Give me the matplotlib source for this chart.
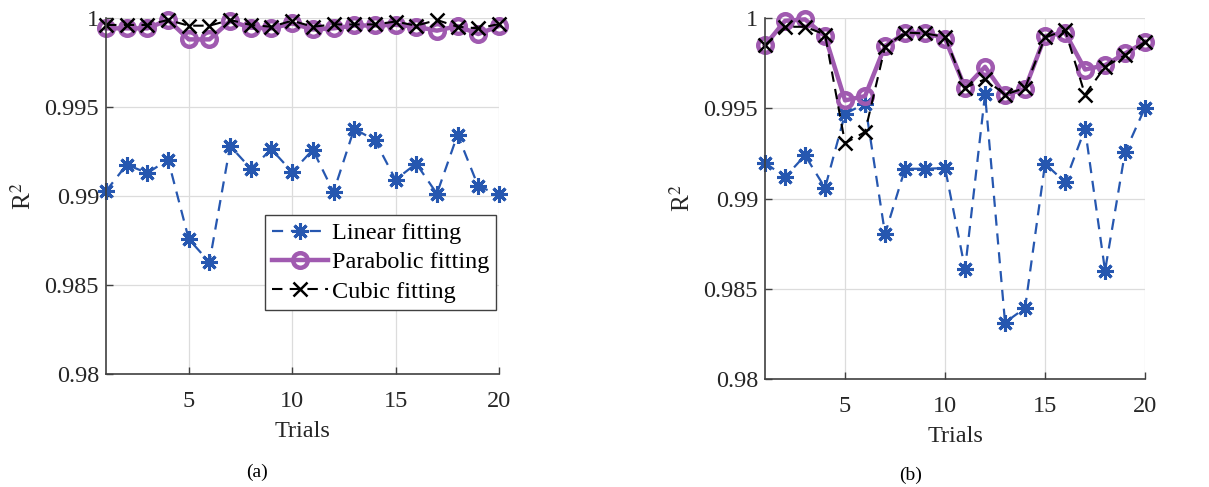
import matplotlib
matplotlib.use("Agg")
import matplotlib.pyplot as plt
import numpy as np

plt.rcParams['font.family'] = ['Liberation Serif', 'DejaVu Serif']
plt.rcParams['mathtext.fontset'] = 'stix'

# Data
trials = np.arange(1, 21)

# (a)
lin_a = [0.99028, 0.99176, 0.99129, 0.99204, 0.98758, 0.98628, 0.99281, 0.99154, 0.99262, 0.99135,
         0.99260, 0.99022, 0.99378, 0.99313, 0.99092, 0.99182, 0.99013, 0.99345, 0.99054, 0.99009]
par_a = [0.99942, 0.99942, 0.99942, 0.99989, 0.99880, 0.99880, 0.99983, 0.99946, 0.99942, 0.99970,
         0.99936, 0.99942, 0.99958, 0.99958, 0.99962, 0.99951, 0.99929, 0.99955, 0.99910, 0.99955]
cub_a = [0.99961, 0.99961, 0.99961, 0.99989, 0.99957, 0.99957, 0.99989, 0.99961, 0.99951, 0.99985,
         0.99951, 0.99964, 0.99964, 0.99964, 0.99980, 0.99957, 0.99989, 0.99951, 0.99942, 0.99966]

# (b)
lin_b = [0.99198, 0.99119, 0.99239, 0.99059, 0.99470, 0.99526, 0.98804, 0.99165, 0.99165, 0.99169,
         0.98609, 0.99578, 0.98313, 0.98393, 0.99193, 0.99091, 0.99387, 0.98600, 0.99257, 0.99504]
par_b = [0.99850, 0.99985, 0.99993, 0.99900, 0.99544, 0.99568, 0.99846, 0.99915, 0.99919, 0.99887,
         0.99613, 0.99730, 0.99572, 0.99609, 0.99900, 0.99920, 0.99715, 0.99739, 0.99804, 0.99868]
cub_b = [0.99850, 0.99952, 0.99952, 0.99909, 0.99307, 0.99369, 0.99841, 0.99920, 0.99915, 0.99896,
         0.99615, 0.99661, 0.99576, 0.99613, 0.99893, 0.99933, 0.99576, 0.99730, 0.99794, 0.99868]

yticks = [0.98, 0.985, 0.99, 0.995, 1.0]
yticklabels = ['0.98', '0.985', '0.99', '0.995', '1']
xticks = [5, 10, 15, 20]

c_lin = '#2657b0'
c_par = '#a05ab0'
c_cub = 'black'
dash = (0, (5, 3.5))
asterisk = (8, 2, 0)

fig = plt.figure(figsize=(12.09, 4.87), dpi=100)
ax1 = fig.add_axes([0.0877, 0.232, 0.325, 0.731])
ax2 = fig.add_axes([0.6328, 0.2218, 0.3143, 0.741])


def draw(ax, lin, par, cub):
    ax.plot(trials, lin, color=c_lin, ls=dash, lw=1.6, marker=asterisk, ms=12, mew=2.2,
            clip_on=False, label='Linear fitting')
    ax.plot(trials, par, color=c_par, ls='-', lw=3.2, marker='o', ms=10.5, mew=3.2,
            mfc='none', clip_on=False, label='Parabolic fitting')
    ax.plot(trials, cub, color=c_cub, ls=dash, lw=1.5, marker='x', ms=9.5, mew=1.8,
            clip_on=False, label='Cubic fitting')
    ax.set_xlim(1, 20)
    ax.set_ylim(0.98, 1.0)
    ax.set_xticks(xticks)
    ax.set_yticks(yticks)
    ax.set_yticklabels(yticklabels)
    ax.grid(True, color='#dcdcdc', lw=0.9)
    ax.set_axisbelow(True)
    for s in ['top', 'right']:
        ax.spines[s].set_visible(False)
    for s in ['left', 'bottom']:
        ax.spines[s].set_color('#404040')
        ax.spines[s].set_linewidth(1.2)
    ax.tick_params(direction='in', length=5, width=1, colors='#404040',
                   labelcolor='#262626', labelsize=17.5)
    ax.tick_params(axis='x', pad=12)
    ax.tick_params(axis='y', pad=5)
    ax.set_xlabel('Trials', fontsize=17.5, color='#262626', labelpad=7)
    ax.set_ylabel(r'R$^2$', fontsize=18, color='#262626', labelpad=6)


draw(ax1, lin_a, par_a, cub_a)
draw(ax2, lin_b, par_b, cub_b)

leg = ax1.legend(loc='lower right', bbox_to_anchor=(0.993, 0.18), fontsize=17.5,
                 fancybox=False, framealpha=1, edgecolor='#404040', borderpad=0.3,
                 handlelength=2.3, handletextpad=0.15, labelspacing=0.3, borderaxespad=0)
leg.get_frame().set_linewidth(1.0)

fig.text(0.2125, 0.02, '(a)', ha='center', fontsize=14)
fig.text(0.7535, 0.015, '(b)', ha='center', fontsize=14)

fig.savefig('out.png', dpi=100)
